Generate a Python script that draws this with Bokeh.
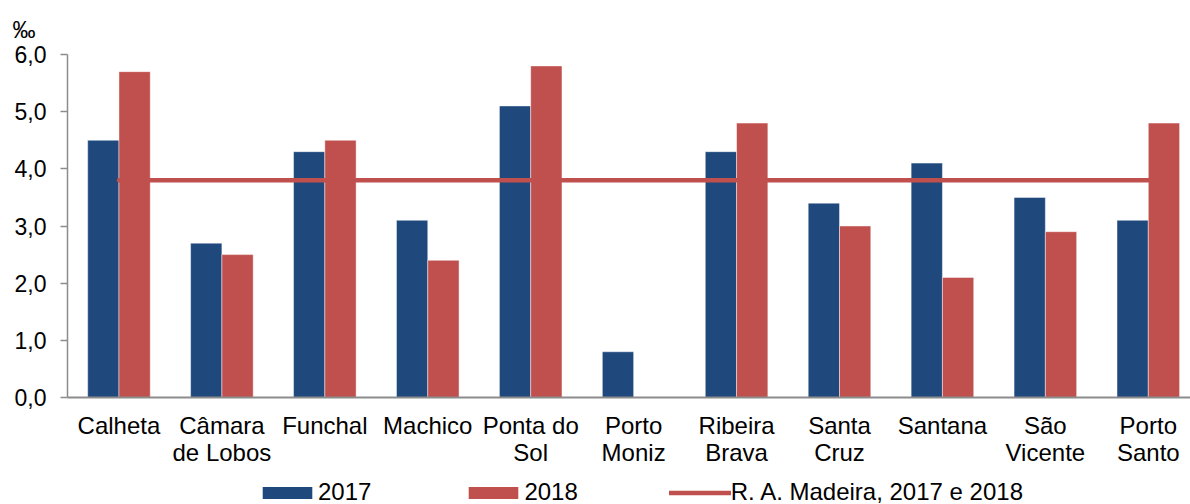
from bokeh.plotting import figure
from bokeh.layouts import column
from bokeh.models import (ColumnDataSource, Range1d, FixedTicker, Legend, LegendItem, Title)
from bokeh.transform import dodge
from bokeh.embed import file_html
from bokeh.resources import INLINE

categories = ["Calheta", "Câmara\nde Lobos", "Funchal", "Machico", "Ponta do\nSol",
              "Porto\nMoniz", "Ribeira\nBrava", "Santa\nCruz", "Santana", "São\nVicente",
              "Porto\nSanto"]
v2017 = [4.5, 2.7, 4.3, 3.1, 5.1, 0.8, 4.3, 3.4, 4.1, 3.5, 3.1]
v2018 = [5.7, 2.5, 4.5, 2.4, 5.8, 0.0, 4.8, 3.0, 2.1, 2.9, 4.8]
madeira = [3.8] * len(categories)
yticks = [0, 1, 2, 3, 4, 5, 6]
ytick_labels = ["0,0", "1,0", "2,0", "3,0", "4,0", "5,0", "6,0"]
series_names = ["2017", "2018", "R. A. Madeira, 2017 e 2018"]

BLUE = "#1F497D"
RED = "#C0504D"
FONT = "Liberation Sans"

idx = list(range(len(categories)))
src = ColumnDataSource(dict(x=idx, a=v2017, b=v2018, m=madeira))

p = figure(width=1190, height=470, output_backend="svg", toolbar_location=None,
           x_range=Range1d(-0.5, 10.41), y_range=Range1d(0, 6),
           min_border_left=67, min_border_right=0, min_border_top=54,
           min_border_bottom=73)
p.outline_line_color = None
p.xgrid.visible = False
p.ygrid.visible = False

bar_kw = dict(line_color="#ffffff", line_alpha=0.45, line_width=1)
p.vbar(x=dodge("x", -0.152, range=p.x_range), top="a", width=0.304, source=src,
       fill_color=BLUE, **bar_kw)
p.vbar(x=dodge("x", 0.152, range=p.x_range), top="b", width=0.304, source=src,
       fill_color=RED, **bar_kw)
p.line(x="x", y="m", source=src, line_color=RED, line_width=4.5, line_cap="round")

# x axis
xa = p.xaxis[0]
xa.ticker = FixedTicker(ticks=idx)
xa.major_label_overrides = {i: c for i, c in zip(idx, categories)}
xa.major_tick_out = 0
xa.major_tick_in = 0
xa.minor_tick_out = 0
xa.minor_tick_in = 0
xa.axis_line_color = "#8c8c8c"
xa.axis_line_width = 2
xa.major_label_text_font = FONT
xa.major_label_text_font_size = "24px"
xa.major_label_text_color = "#000000"
xa.major_label_text_line_height = 1.0
xa.major_label_standoff = 14

# y axis
ya = p.yaxis[0]
ya.ticker = FixedTicker(ticks=yticks)
ya.major_label_overrides = {t: l for t, l in zip(yticks, ytick_labels)}
ya.minor_tick_out = 0
ya.minor_tick_in = 0
ya.major_tick_in = 0
ya.major_tick_out = 7
ya.major_tick_line_color = "#8c8c8c"
ya.major_tick_line_width = 1.5
ya.axis_line_color = "#8c8c8c"
ya.axis_line_width = 1.5
ya.major_label_text_font = FONT
ya.major_label_text_font_size = "23px"
ya.major_label_text_color = "#000000"
ya.major_label_standoff = 14

unit = Title(text="‰", align="left", offset=-55, standoff=23,
             text_font=FONT, text_font_size="23px", text_font_style="normal",
             text_color="#000000")
p.add_layout(unit, "above")

# legend strip below the chart
lg = figure(width=1190, height=34, output_backend="svg", toolbar_location=None,
            x_range=Range1d(0, 1), y_range=Range1d(0, 1),
            x_axis_location=None, y_axis_location=None,
            min_border_left=0, min_border_right=0, min_border_top=0, min_border_bottom=0)
lg.outline_line_color = None
lg.xgrid.visible = False
lg.ygrid.visible = False
hidden = ColumnDataSource(dict(x=[5, 6], y=[5, 5]))  # outside the visible range
g1 = lg.vbar(x="x", top="y", width=0.1, source=hidden, fill_color=BLUE, line_color=None)
g2 = lg.vbar(x="x", top="y", width=0.1, source=hidden, fill_color=RED, line_color=None)
g3 = lg.line(x="x", y="y", source=hidden, line_color=RED, line_width=4.5, line_cap="round")

legend = Legend(items=[LegendItem(label=series_names[0], renderers=[g1]),
                       LegendItem(label=series_names[1], renderers=[g2]),
                       LegendItem(label=series_names[2], renderers=[g3])],
                orientation="horizontal", location=(189, -2),
                glyph_width=62, glyph_height=15, label_standoff=0, spacing=91,
                padding=0, margin=0, border_line_color=None, background_fill_alpha=0,
                label_text_font=FONT, label_text_font_size="24px",
                label_text_color="#000000")
lg.add_layout(legend, "center")

layout = column(p, lg, spacing=0)
open("out.html", "w").write(file_html(layout, INLINE))
